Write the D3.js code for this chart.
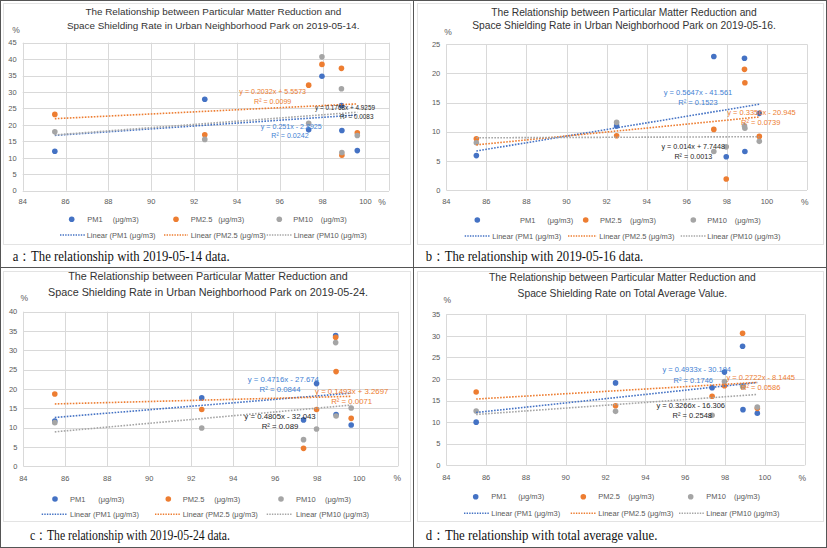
<!DOCTYPE html>
<html><head><meta charset="utf-8">
<script src="https://cdn.jsdelivr.net/npm/d3@7"></script>
<style>
body{margin:0;background:#fff}
svg{display:block}
text{font-family:"Liberation Sans",Arial,sans-serif}
text.cap{font-family:"Liberation Serif","DejaVu Serif",serif}
</style>
</head><body>
<svg id="fig" width="827" height="548"></svg>
<script>
// ---------- DATA ----------
const siteRate = [85.5, 92.5, 97.35, 97.97, 98.88, 98.9, 99.62]; // space shielding rate (%)
const xTicks = [84, 86, 88, 90, 92, 94, 96, 98, 100];
const seriesNames = ["PM1", "PM2.5", "PM10"];
const unitLabel = "(μg/m3)";
const trendNames = ["Linear (PM1 (μg/m3)", "Linear (PM2.5 (μg/m3)", "Linear (PM10 (μg/m3)"];

// 2019-05-14
const pm1_0514  = [12.0, 27.8, 18.5, 34.8, 25.9, 18.3, 12.2];
const pm25_0514 = [23.2, 17.0, 32.1, 38.4, 37.2, 10.8, 17.6];
const pm10_0514 = [17.9, 15.6, 20.5, 40.7, 31.0, 11.6, 16.8];
const eq_0514 = ["y = 0.251x - 2.8925", "y = 0.2032x + 5.5573", "y = 0.1768x + 4.9259"];
const r2_0514 = ["R² = 0.0242", "R² = 0.0099", "R² = 0.0083"];

// 2019-05-16
const pm1_0516  = [5.9, 11.0, 22.9, 5.7, 22.6, 6.6, 13.15];
const pm25_0516 = [8.8, 9.3, 10.4, 1.9, 20.7, 18.4, 9.2];
const pm10_0516 = [8.1, 11.6, 6.6, 7.4, 11.0, 10.6, 8.35];
const eq_0516 = ["y = 0.5647x - 41.561", "y = 0.3356x - 20.945", "y = 0.014x + 7.7448"];
const r2_0516 = ["R² = 0.1523", "R² = 0.0739", "R² = 0.0013"];

// 2019-05-24
const pm1_0524  = [11.7, 17.7, 12.0, 21.4, 33.8, 13.4, 10.7];
const pm25_0524 = [18.7, 14.7, 4.65, 14.7, 33.4, 24.5, 12.4];
const pm10_0524 = [11.3, 9.9, 6.9, 9.65, 32.0, 13.0, 15.1];
const eq_0524 = ["y = 0.4716x - 27.674", "y = 0.1493x + 3.2697", "y = 0.4805x - 32.043"];
const r2_0524 = ["R² = 0.0844", "R² = 0.0071", "R² = 0.089"];

// total average
const pm1_avg  = [10.0, 19.1, 18.0, 21.6, 27.6, 12.9, 12.05];
const pm25_avg = [17.0, 13.8, 16.0, 18.45, 30.6, 18.2, 13.2];
const pm10_avg = [12.6, 12.5, 11.6, 19.4, 18.4, 18.2, 13.5];
const eq_avg = ["y = 0.4933x - 30.194", "y = 0.2722x - 8.1445", "y = 0.3266x - 16.306"];
const r2_avg = ["R² = 0.1746", "R² = 0.0586", "R² = 0.2548"];

const titleLine1 = "The Relationship between Particular Matter Reduction and";
const titles = [
  [titleLine1, "Space Shielding Rate in Urban Neighborhood Park on 2019-05-14."],
  [titleLine1, "Space Shielding Rate in Urban Neighborhood Park on 2019-05-16."],
  [titleLine1, "Space Shielding Rate in Urban Neighborhood Park on 2019-05-24."],
  [titleLine1, "Space Shielding Rate on Total Average Value."]
];
const captions = [
  "a：The relationship with 2019-05-14 data.",
  "b：The relationship with 2019-05-16 data.",
  "c：The relationship with 2019-05-24 data.",
  "d：The relationship with total average value."
];

// ---------- STYLE / LAYOUT ----------
const colors = ["#4472C4", "#ED7D31", "#A5A5A5"];
const eqColors = ["#3f82d4", "#ED7D31", "#262626"];

const panels = [
  { series:[pm1_0514, pm25_0514, pm10_0514], eq:eq_0514, r2:r2_0514, title:titles[0], caption:captions[0],
    yMax:45, xMax:101.1, left:22.7, right:389, top:42.7, bottom:190.7,
    titleX:213.3, titleY:[15.2, 28.6], titleSize:9.9,
    yPctX:16, yPctY:30, xPctX:382, xTickY:201.7,
    eqPos:[[291.3,126.7,290,135.7,7.1],[272.7,91.7,272.7,101.7,7.1],[345,107.3,356.7,116.7,6.4]],
    leg:{mx:[71.7,176,279.3], lx:[87.3,190.7,293.3], ux:[112.7,218.3,320.7],
         l0:[60,164,266.7], l1:[85,188,291.7], tx:[86.7,190.7,293.7], r1:219.3, r2:235},
    capX:12.7, capY:260.5, capW:217, box:[3,3,407,241] },
  { series:[pm1_0516, pm25_0516, pm10_0516], eq:eq_0516, r2:r2_0516, title:titles[1], caption:captions[1],
    yMax:25, xMax:102, left:446.3, right:807, top:44.3, bottom:190,
    titleX:624, titleY:[15.8, 29.2], titleSize:10.25,
    yPctX:448, yPctY:32.3, xPctX:804.7, xTickY:201.7,
    eqPos:[[698,92.3,698,102.3,7.5],[761.5,112.3,760.7,122.3,7.5],[693.3,146.7,693.3,156,7.2]],
    leg:{mx:[477.3,585.7,693.3], lx:[520,600,707.3], ux:[547.3,630,734.7],
         l0:[464.7,568,680.7], l1:[490,596.7,705.7], tx:[492.3,599.3,707.3], r1:220, r2:236},
    capX:425.7, capY:260.5, capW:217.5, box:[417,3,406,241] },
  { series:[pm1_0524, pm25_0524, pm10_0524], eq:eq_0524, r2:r2_0524, title:titles[2], caption:captions[2],
    yMax:40, xMax:101.85, left:23.3, right:398, top:311.7, bottom:466.3,
    titleX:208, titleY:[280.4, 295.5], titleSize:10.8,
    yPctX:24.3, yPctY:298.3, xPctX:397.3, xTickY:478.3,
    eqPos:[[283.3,379.3,280,389.3,7.8],[351.7,390.7,351.7,401,7.8],[280,416,280,426,7.8]],
    leg:{mx:[55,168.3,281], lx:[70,182.7,296], ux:[98.3,214.3,325],
         l0:[41.7,155,266.7], l1:[66.7,180,292.7], tx:[70,182.7,296], r1:499, r2:514.3},
    capX:30, capY:540, capW:200, box:[3,271,407,250] },
  { series:[pm1_avg, pm25_avg, pm10_avg], eq:eq_avg, r2:r2_avg, title:titles[3], caption:captions[3],
    yMax:35, xMax:102, left:446.3, right:804.7, top:314.3, bottom:465.3,
    titleX:622.3, titleY:[281, 297], titleSize:10.3,
    yPctX:447.3, yPctY:300, xPctX:802.3, xTickY:477.7,
    eqPos:[[696.7,369.3,693.3,380,7.5],[760.7,377.3,760.7,387.7,7.5],[690.7,405,692.3,415,7.5]],
    leg:{mx:[475.7,583.3,690.7], lx:[491.3,598.3,706.3], ux:[518.3,628.3,734],
         l0:[464,570.7,679], l1:[489,596.7,704], tx:[491.3,598.3,706.3], r1:496.7, r2:513.3},
    capX:425.7, capY:540, capW:231.7, box:[417,271,406,250] }
];

const svg = d3.select("#fig");
svg.append("rect").attr("width", 827).attr("height", 548).attr("fill", "#fff");

function fitLine(xs, ys) {
  const mx = d3.mean(xs), my = d3.mean(ys);
  let sxy = 0, sxx = 0;
  xs.forEach((v, i) => { sxy += (v - mx) * (ys[i] - my); sxx += (v - mx) * (v - mx); });
  const b = sxy / sxx;
  return { slope: b, intercept: my - b * mx };
}

panels.forEach(p => {
  const g = svg.append("g");
  // chart-area light border
  g.append("rect").attr("x", p.box[0] + 0.5).attr("y", p.box[1] + 0.5)
    .attr("width", p.box[2]).attr("height", p.box[3])
    .attr("fill", "none").attr("stroke", "#e3e3e3").attr("stroke-width", 1);

  const x = d3.scaleLinear().domain([84, p.xMax]).range([p.left, p.right]);
  const y = d3.scaleLinear().domain([0, p.yMax]).range([p.bottom, p.top]);
  const yTicks = d3.range(0, p.yMax + 0.001, 5);

  // gridlines
  g.append("g").selectAll("line").data(yTicks).join("line")
    .attr("x1", x(84)).attr("x2", x(p.xMax))
    .attr("y1", d => Math.round(y(d)) + 0.5).attr("y2", d => Math.round(y(d)) + 0.5)
    .attr("stroke", "#d9d9d9").attr("stroke-width", 1);
  g.append("g").selectAll("line").data(xTicks.concat([p.xMax])).join("line")
    .attr("x1", d => Math.round(x(d)) + 0.5).attr("x2", d => Math.round(x(d)) + 0.5)
    .attr("y1", y(0)).attr("y2", y(p.yMax))
    .attr("stroke", "#d9d9d9").attr("stroke-width", 1);

  // tick labels
  g.append("g").selectAll("text").data(yTicks).join("text")
    .attr("x", x(84) - 6).attr("y", d => y(d) + 2.7)
    .attr("text-anchor", "end").attr("font-size", 7.5).attr("fill", "#595959")
    .text(d => d);
  g.append("g").selectAll("text").data(xTicks).join("text")
    .attr("x", d => x(d)).attr("y", p.xTickY + 2.7)
    .attr("text-anchor", "middle").attr("font-size", 7.5).attr("fill", "#595959")
    .text(d => d);
  g.append("text").attr("x", p.yPctX).attr("y", p.yPctY + 3).attr("text-anchor", "middle")
    .attr("font-size", 8.5).attr("fill", "#595959").text("%");
  g.append("text").attr("x", p.xPctX).attr("y", p.xTickY + 3).attr("text-anchor", "middle")
    .attr("font-size", 8.5).attr("fill", "#595959").text("%");

  // points
  p.series.forEach((vals, si) => {
    g.append("g").selectAll("circle").data(vals).join("circle")
      .attr("cx", (d, i) => x(siteRate[i])).attr("cy", d => y(d)).attr("r", 2.8)
      .attr("fill", colors[si]);
  });

  // trendlines (least squares fit of the data)
  const x0 = d3.min(siteRate), x1 = d3.max(siteRate);
  p.series.forEach((vals, si) => {
    const f = fitLine(siteRate, vals);
    g.append("line")
      .attr("x1", x(x0)).attr("y1", y(f.slope * x0 + f.intercept))
      .attr("x2", x(x1)).attr("y2", y(f.slope * x1 + f.intercept))
      .attr("stroke", colors[si]).attr("stroke-width", 1.6)
      .attr("stroke-dasharray", "1.6,1.4");
  });

  // equation labels
  p.eq.forEach((txt, si) => {
    const pos = p.eqPos[si];
    g.append("text").attr("x", pos[0]).attr("y", pos[1] + pos[4] * 0.36)
      .attr("text-anchor", "middle").attr("font-size", pos[4]).attr("fill", eqColors[si]).text(txt);
    g.append("text").attr("x", pos[2]).attr("y", pos[3] + pos[4] * 0.36)
      .attr("text-anchor", "middle").attr("font-size", pos[4]).attr("fill", eqColors[si]).text(p.r2[si]);
  });

  // legend
  const L = p.leg;
  seriesNames.forEach((nm, si) => {
    g.append("circle").attr("cx", L.mx[si]).attr("cy", L.r1).attr("r", 2.8).attr("fill", colors[si]);
    g.append("text").attr("x", L.lx[si]).attr("y", L.r1 + 2.7).attr("font-size", 7.5)
      .attr("fill", "#595959").text(nm);
    g.append("text").attr("x", L.ux[si]).attr("y", L.r1 + 2.7).attr("font-size", 7.5)
      .attr("fill", "#595959").text(unitLabel);
    g.append("line").attr("x1", L.l0[si]).attr("x2", L.l1[si]).attr("y1", L.r2).attr("y2", L.r2)
      .attr("stroke", colors[si]).attr("stroke-width", 1.4).attr("stroke-dasharray", "1.4,1.2");
    g.append("text").attr("x", L.tx[si]).attr("y", L.r2 + 2.7).attr("font-size", 7.5)
      .attr("fill", "#595959").text(trendNames[si]);
  });

  // title
  p.title.forEach((t, li) => {
    g.append("text").attr("x", p.titleX).attr("y", p.titleY[li]).attr("text-anchor", "middle")
      .attr("font-size", p.titleSize).attr("fill", "#333").text(t);
  });

  // caption
  g.append("text").attr("class", "cap").attr("x", p.capX).attr("y", p.capY)
    .attr("font-size", 15)
    .attr("textLength", p.capW).attr("lengthAdjust", "spacingAndGlyphs")
    .attr("fill", "#111").text(p.caption);
});

// figure frame and dividers
svg.append("rect").attr("x", 0.5).attr("y", 0.5).attr("width", 826).attr("height", 547)
  .attr("fill", "none").attr("stroke", "#555").attr("stroke-width", 1);
svg.append("line").attr("x1", 413.5).attr("x2", 413.5).attr("y1", 0).attr("y2", 548)
  .attr("stroke", "#555").attr("stroke-width", 1);
svg.append("line").attr("x1", 0).attr("x2", 827).attr("y1", 267.5).attr("y2", 267.5)
  .attr("stroke", "#555").attr("stroke-width", 1);
</script>
</body></html>
